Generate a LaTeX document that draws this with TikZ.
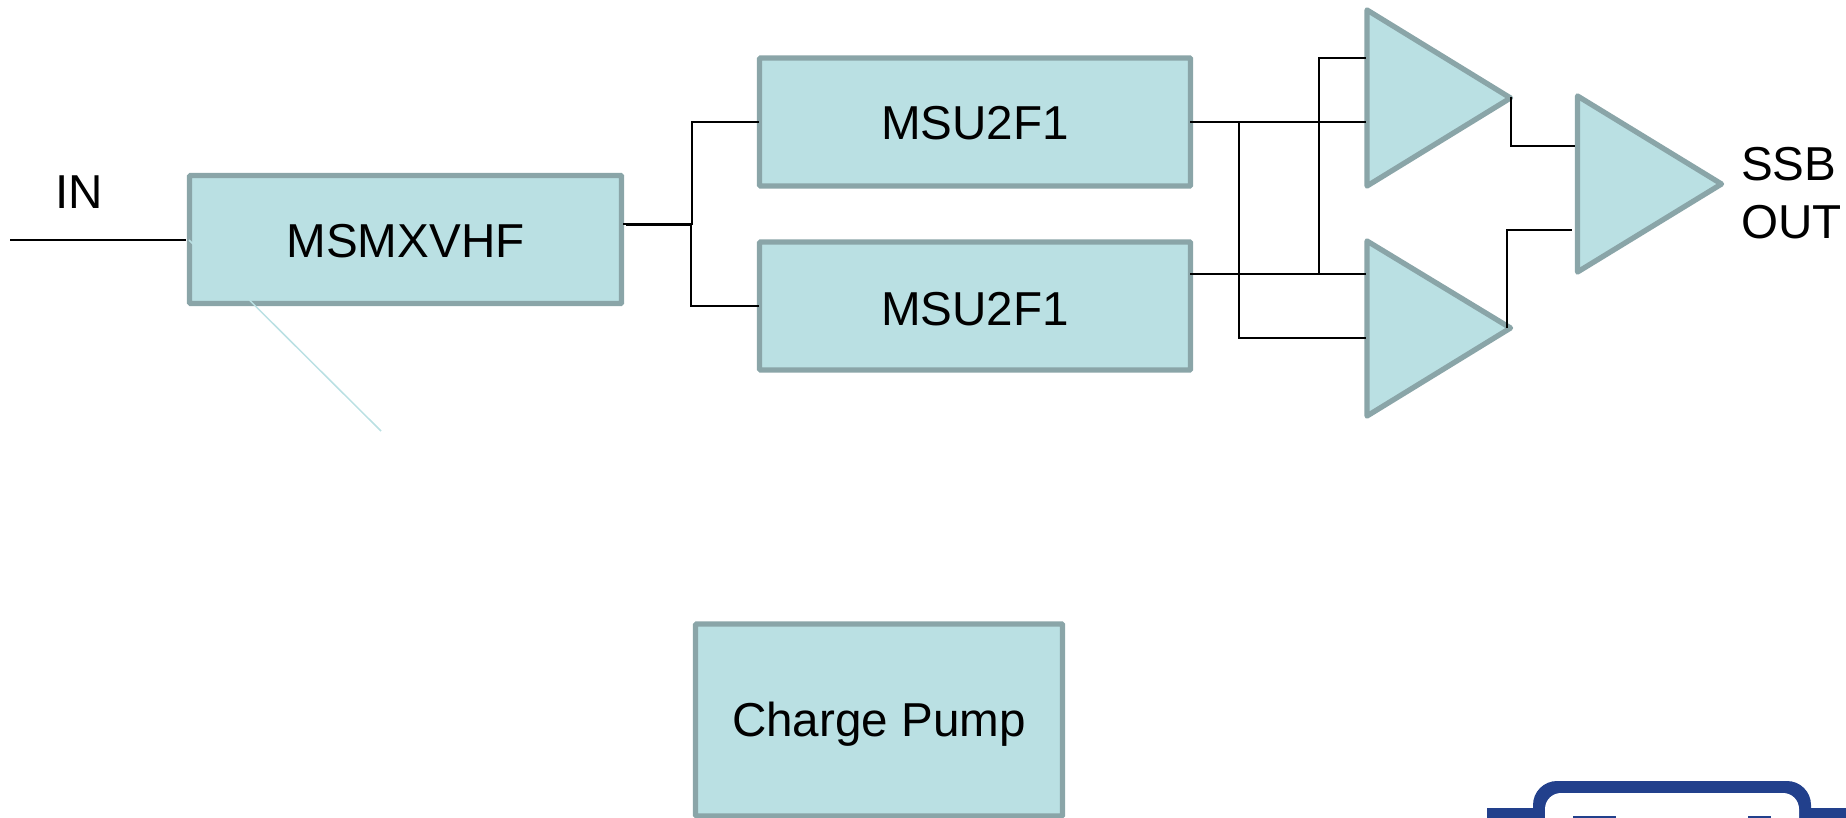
\documentclass[tikz,border=0pt]{standalone}
\usepackage{fontspec}
\setmainfont{Liberation Sans}
\definecolor{boxfill}{HTML}{BAE0E3}
\definecolor{boxline}{HTML}{8AA5A8}
\definecolor{logoblue}{HTML}{22408C}
\tikzset{
  x=1pt,y=-1pt,
  blockbox/.style={draw=boxline,fill=boxfill,line width=5.3pt,rounded corners=1pt,inner sep=0pt,outer sep=0pt,font=\fontsize{47.6}{50}\selectfont,text=black,text depth=0pt},
  amptri/.style={draw=boxline,fill=boxfill,line width=5.3pt,line join=round},
  wire/.style={draw=black,line width=2pt,line join=miter},
  label/.style={inner sep=0pt,outer sep=0pt,font=\fontsize{47.6}{50}\selectfont,text=black,anchor=base west},
}
\begin{document}
\begin{tikzpicture}
\useasboundingbox (0,0) rectangle (1846,818);
% logo fragment
\fill[logoblue] (1487,808) rectangle (1846,818);
\fill[logoblue,rounded corners=24pt] (1533,781) rectangle (1811,860);
\fill[white,rounded corners=16pt] (1545,793) rectangle (1799,860);
\fill[logoblue] (1573,816) rectangle (1616,818);
\fill[logoblue] (1748,816) rectangle (1771,818);
% blocks
\node[blockbox,text height=35.6pt,minimum width=432pt,minimum height=128pt] (mix) at (405.5,239.5) {MSMXVHF};
\node[blockbox,text height=36pt,minimum width=431pt,minimum height=128pt] (su1) at (975,122) {MSU2F1};
\node[blockbox,text height=38pt,minimum width=431pt,minimum height=128pt] (su2) at (975,306) {MSU2F1};
\node[blockbox,text height=32.6pt,minimum width=367pt,minimum height=192pt] (cp) at (879,720) {Charge Pump};
% amplifiers
\coordinate (a1t) at (1367,10);
\coordinate (a1b) at (1367,186);
\coordinate (a1o) at (1510.5,98);
\coordinate (a2t) at (1367,241);
\coordinate (a2b) at (1367,416);
\coordinate (a2o) at (1510.5,328);
\coordinate (a3t) at (1577.5,96);
\coordinate (a3b) at (1577.5,272);
\coordinate (a3o) at (1721.5,184);
\draw[amptri] (a1t) -- (a1o) -- (a1b) -- cycle;
\draw[amptri] (a2t) -- (a2o) -- (a2b) -- cycle;
\draw[amptri] (a3t) -- (a3o) -- (a3b) -- cycle;
% texts
\node[label] (in) at (55,209) {IN};
\node[label] (ssb) at (1741,181) {SSB};
\node[label] (out) at (1741,239) {OUT};
% IN wires
\coordinate (inl) at (10,239.7);
\coordinate (inr) at (186,239.7);
\draw[wire] (inl) -- (inr);
\coordinate (diagA) at (189,240);
\coordinate (diagB) at (381,431);
\draw[boxfill,line width=1.5pt] (diagA) -- (diagB);
% mixer outputs
\coordinate (mo) at (623,224);
\coordinate (mo2) at (626,225.2);
\coordinate (js1) at (692.3,224);
\coordinate (js2) at (691,225.2);
\coordinate (s1i) at (758.5,122);
\coordinate (s2i) at (758.5,306);
\draw[wire] (mo) -- (js1) |- (s1i);
\draw[wire] (mo2) -- (js2) |- (s2i);
% MSU outputs
\coordinate (s1o) at (1190,122);
\coordinate (s2o) at (1190,274);
\coordinate (a1i2) at (1366,122);
\coordinate (a1i1) at (1366,58);
\coordinate (a2i1) at (1366,274);
\coordinate (a2i2) at (1366,338);
\coordinate (b1) at (1239,122);
\coordinate (b2) at (1319,274);
\draw[wire] (s1o) -- (a1i2);
\draw[wire] (s2o) -- (a2i1);
\draw[wire] (b1) |- (a2i2);
\draw[wire] (b2) |- (a1i1);
% amplifier outputs
\coordinate (o1s) at (1511,97);
\coordinate (o2s) at (1507.3,328);
\coordinate (a3i1) at (1575,145.7);
\coordinate (a3i2) at (1571.7,230);
\draw[wire] (o1s) |- (a3i1);
\draw[wire] (o2s) |- (a3i2);
\end{tikzpicture}
\end{document}
